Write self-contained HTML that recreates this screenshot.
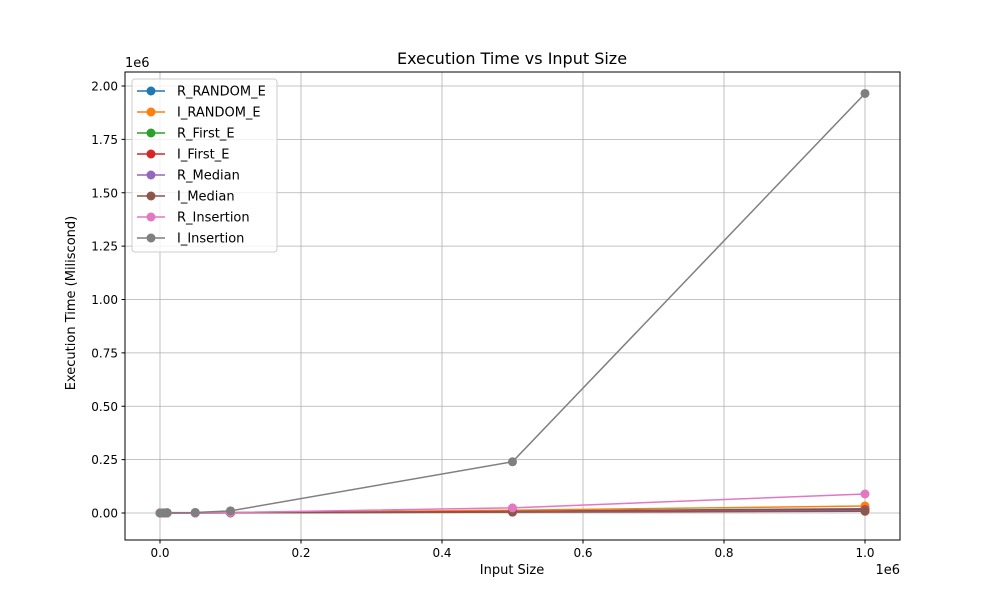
<!DOCTYPE html>
<html><head><meta charset="utf-8"><style>
body{margin:0;background:#fff;font-family:"Liberation Sans","DejaVu Sans",sans-serif;}
svg text{font-family:"DejaVu Sans","Liberation Sans",sans-serif;}
</style></head><body>
<svg id="chart" width="1000" height="600" viewBox="0 0 1000 600" xmlns="http://www.w3.org/2000/svg">
<rect width="1000" height="600" fill="#fff"/>
<text x="512" y="64" font-size="16" text-anchor="middle">Execution Time vs Input Size</text>
<g id="grid"></g>
<g id="series"></g>
<rect x="125" y="72" width="775" height="468" fill="none" stroke="#000" stroke-width="1"/>
<g id="ticks"></g>
<text x="512" y="574" font-size="13" text-anchor="middle">Input Size</text>
<text x="900" y="574" font-size="13" text-anchor="end">1e6</text>
<text x="75" y="303" font-size="13" text-anchor="middle" transform="rotate(-90 75 303)">Execution Time (Miliscond)</text>
<text x="125" y="67" font-size="13">1e6</text>
<g id="legend"></g>
</svg>
<script>
const inputSizes = [100, 1000, 5000, 10000, 50000, 100000, 500000, 1000000];
const seriesNames = ["R_RANDOM_E","I_RANDOM_E","R_First_E","I_First_E","R_Median","I_Median","R_Insertion","I_Insertion"];
const colors = ["#1f77b4","#ff7f0e","#2ca02c","#d62728","#9467bd","#8c564b","#e377c2","#7f7f7f"];
const rRandomE = [0, 0, 50, 100, 600, 1300, 9000, 20000];
const iRandomE = [0, 0, 60, 120, 800, 1700, 13000, 33000];
const rFirstE = [0, 0, 40, 90, 500, 1100, 7000, 16000];
const iFirstE = [0, 0, 40, 90, 500, 1100, 7000, 15000];
const rMedian = [0, 0, 30, 70, 400, 900, 5000, 11000];
const iMedian = [0, 0, 30, 60, 350, 800, 4000, 8000];
const rInsertion = [0, 10, 200, 800, 400, 2500, 24000, 89000];
const iInsertion = [0, 20, 500, 2000, 2500, 10000, 240000, 1965000];
const xTicks = [0, 0.2, 0.4, 0.6, 0.8, 1.0];
const yTicks = [0, 0.25, 0.5, 0.75, 1.0, 1.25, 1.5, 1.75, 2.0];
const xTickLabels = ["0.0","0.2","0.4","0.6","0.8","1.0"];
const yTickLabels = ["0.00","0.25","0.50","0.75","1.00","1.25","1.50","1.75","2.00"];
const allSeries = [rRandomE,iRandomE,rFirstE,iFirstE,rMedian,iMedian,rInsertion,iInsertion];

const NS="http://www.w3.org/2000/svg";
const xs = v => 160 + v/1e6*705;
const ys = v => 513 - v/2e6*427;
function mk(tag, attrs, parent){const e=document.createElementNS(NS,tag);for(const k in attrs)e.setAttribute(k,attrs[k]);parent.appendChild(e);return e;}
const grid=document.getElementById('grid'), ticks=document.getElementById('ticks');
xTicks.forEach((t,i)=>{
  const x=xs(t*1e6);
  const g=mk('line',{x1:x,x2:x,y1:72,y2:540,stroke:'#b0b0b0','stroke-width':0.8},grid);
  
  
  mk('line',{x1:x,x2:x,y1:540,y2:543.5,stroke:'#000'},ticks);
  const tx=mk('text',{x:x,y:557,'font-size':12,'text-anchor':'middle'},ticks);
  tx.textContent=xTickLabels[i];
  
  
});
yTicks.forEach((t,i)=>{
  const y=ys(t*1e6);
  const g=mk('line',{x1:125,x2:900,y1:y,y2:y,stroke:'#b0b0b0','stroke-width':0.8},grid);
  
  
  mk('line',{x1:121.5,x2:125,y1:y,y2:y,stroke:'#000'},ticks);
  const tx=mk('text',{x:118,y:y+4.5,'font-size':12,'text-anchor':'end'},ticks);
  tx.textContent=yTickLabels[i];
  
  
});
const sg=document.getElementById('series');
allSeries.forEach((vals,si)=>{
  const g=mk('g',{},sg);
  
  
  const pts=vals.map((v,i)=>xs(inputSizes[i])+','+ys(v)).join(' ');
  mk('polyline',{points:pts,fill:'none',stroke:colors[si],'stroke-width':1.5},g);
  vals.forEach((v,i)=>{
    const c=mk('circle',{cx:xs(inputSizes[i]),cy:ys(v),r:4.5,fill:colors[si]},g);
    
    
  });
});
const lg=document.getElementById('legend');
const box=mk('rect',{x:132,y:79,width:145,height:173,fill:'#fff','fill-opacity':0.8,stroke:'#ccc',rx:3},lg);


seriesNames.forEach((n,i)=>{
  const y=91+i*21;
  const g=mk('g',{},lg);
  
  
  mk('line',{x1:137,x2:165,y1:y,y2:y,stroke:colors[i],'stroke-width':1.5},g);
  mk('circle',{cx:151,cy:y,r:4.5,fill:colors[i]},g);
  const t=mk('text',{x:177,y:y+4.5,'font-size':13},g);
  t.textContent=n;
});
</script>
</body></html>
